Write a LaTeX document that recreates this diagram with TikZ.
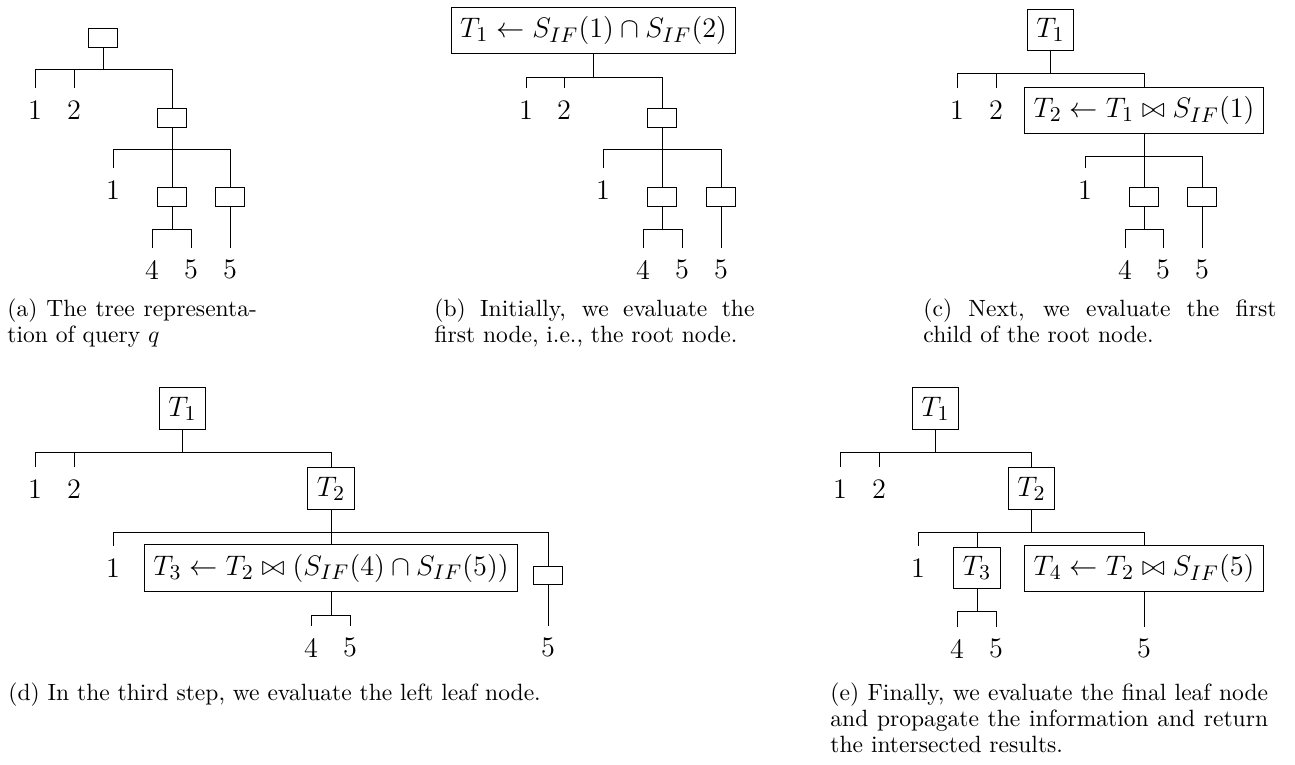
\documentclass[tikz,border=0pt]{standalone}
\usepackage{amsmath,amssymb}
\usepackage{tikz}

\begin{document}
\begin{tikzpicture}[x=0.425pt, y=-0.425pt,
    op/.style={draw, minimum width=12.4pt, minimum height=8pt, inner sep=0pt},
    res/.style={draw, font=\fontsize{12.65}{15}\selectfont, inner sep=3.8pt},
    leaf/.style={font=\large, inner xsep=0pt, inner ysep=5pt, anchor=north},
    subcap/.style={anchor=north west, inner sep=0pt, align=justify, font=\fontsize{10}{11}\selectfont}
]
\useasboundingbox (0,0) rectangle (1295,765);

% ---- (a) tree of q ----
\node[op] (a0) at (103,38) {};
\coordinate (a0b) at (103,69);
\node[leaf] (a1) at (35,88) {1};
\node[leaf] (a2) at (74,88) {2};
\node[op] (a3) at (172,118) {};
\draw (a0) -- (a0b);
\foreach \c in {a1,a2,a3} \draw (\c.north) |- (a0b);
\coordinate (a3b) at (172,149);
\node[leaf] (a31) at (113,168) {1};
\node[op] (a32) at (172,197) {};
\node[op] (a33) at (230,197) {};
\draw (a3) -- (a3b);
\foreach \c in {a31,a32,a33} \draw (\c.north) |- (a3b);
\coordinate (a32b) at (172,229);
\node[leaf] (a321) at (152,248) {4};
\node[leaf] (a322) at (191,248) {5};
\node[leaf] (a331) at (230,248) {5};
\draw (a32) -- (a32b);
\foreach \c in {a321,a322} \draw (\c.north) |- (a32b);
\draw (a33) -- (a331);

% ---- (b) root evaluated ----
\node[res] (b0) at (593.5,30.5) {$T_1 \leftarrow S_{IF}(1) \cap S_{IF}(2)$};
\coordinate (b0b) at (593.5,77);
\node[leaf] (b1) at (526,88) {1};
\node[leaf] (b2) at (564,88) {2};
\node[op] (b3) at (662,118) {};
\draw (b0) -- (b0b);
\foreach \c in {b1,b2,b3} \draw (\c.north) |- (b0b);
\coordinate (b3b) at (662,149);
\node[leaf] (b31) at (603,168) {1};
\node[op] (b32) at (662,197) {};
\node[op] (b33) at (721,197) {};
\draw (b3) -- (b3b);
\foreach \c in {b31,b32,b33} \draw (\c.north) |- (b3b);
\coordinate (b32b) at (662,229);
\node[leaf] (b321) at (643,248) {4};
\node[leaf] (b322) at (682,248) {5};
\node[leaf] (b331) at (721,248) {5};
\draw (b32) -- (b32b);
\foreach \c in {b321,b322} \draw (\c.north) |- (b32b);
\draw (b33) -- (b331);

% ---- (c) first child evaluated ----
\node[res] (c0) at (1050.5,30) {$T_1$};
\coordinate (c0b) at (1050.5,73);
\node[leaf] (c1) at (957,88) {1};
\node[leaf] (c2) at (996,88) {2};
\node[res] (c3) at (1144,110.5) {$T_2 \leftarrow T_1 \bowtie S_{IF}(1)$};
\draw (c0) -- (c0b);
\foreach \c in {c1,c2,c3} \draw (\c.north) |- (c0b);
\coordinate (c3b) at (1144,156);
\node[leaf] (c31) at (1085,168) {1};
\node[op] (c32) at (1144,197) {};
\node[op] (c33) at (1202,197) {};
\draw (c3) -- (c3b);
\foreach \c in {c31,c32,c33} \draw (\c.north) |- (c3b);
\coordinate (c32b) at (1144,229);
\node[leaf] (c321) at (1125,248) {4};
\node[leaf] (c322) at (1163,248) {5};
\node[leaf] (c331) at (1202,248) {5};
\draw (c32) -- (c32b);
\foreach \c in {c321,c322} \draw (\c.north) |- (c32b);
\draw (c33) -- (c331);

% ---- (d) left leaf evaluated ----
\node[res] (d0) at (182.5,408.5) {$T_1$};
\coordinate (d0b) at (182.5,452);
\node[leaf] (d1) at (35,467) {1};
\node[leaf] (d2) at (74,467) {2};
\node[res] (d3) at (331,488.5) {$T_2$};
\draw (d0) -- (d0b);
\foreach \c in {d1,d2,d3} \draw (\c.north) |- (d0b);
\coordinate (d3b) at (331,532);
\node[leaf] (d31) at (113,546) {1};
\node[res] (d32) at (331,568) {$T_3 \leftarrow T_2 \bowtie (S_{IF}(4) \cap S_{IF}(5))$};
\node[op] (d33) at (548,575.5) {};
\draw (d3) -- (d3b);
\foreach \c in {d31,d32,d33} \draw (\c.north) |- (d3b);
\coordinate (d32b) at (331,615);
\node[leaf] (d321) at (311,626) {4};
\node[leaf] (d322) at (350,626) {5};
\node[leaf] (d331) at (548,626) {5};
\draw (d32) -- (d32b);
\foreach \c in {d321,d322} \draw (\c.north) |- (d32b);
\draw (d33) -- (d331);

% ---- (e) last leaf evaluated ----
\node[res] (e0) at (935.5,408.5) {$T_1$};
\coordinate (e0b) at (935.5,452);
\node[leaf] (e1) at (840,467) {1};
\node[leaf] (e2) at (879,467) {2};
\node[res] (e3) at (1031.5,488.5) {$T_2$};
\draw (e0) -- (e0b);
\foreach \c in {e1,e2,e3} \draw (\c.north) |- (e0b);
\coordinate (e3b) at (1031.5,532);
\node[leaf] (e31) at (918,546) {1};
\node[res] (e32) at (977,568) {$T_3$};
\node[res] (e33) at (1144,568.5) {$T_4 \leftarrow T_2 \bowtie S_{IF}(5)$};
\draw (e3) -- (e3b);
\foreach \c in {e31,e32,e33} \draw (\c.north) |- (e3b);
\coordinate (e32b) at (977,611);
\node[leaf] (e321) at (957,627) {4};
\node[leaf] (e322) at (996,627) {5};
\node[leaf] (e331) at (1144,627) {5};
\draw (e32) -- (e32b);
\foreach \c in {e321,e322} \draw (\c.north) |- (e32b);
\draw (e33) -- (e331);

% captions
\node[subcap, text width=106pt] (capa) at (7,298.4) {(a) The tree representa-\linebreak tion of query $q$};
\node[subcap, text width=136pt] (capb) at (434,298.4) {(b) Initially, we evaluate the\linebreak first node, i.e., the root node.};
\node[subcap, text width=150pt] (capc) at (923,298.4) {(c) Next, we evaluate the first\linebreak child of the root node.};
\node[subcap, text width=260pt, align=left] (capd) at (8,682.4) {(d) In the third step, we evaluate the left leaf node.};
\node[subcap, text width=186pt] (cape) at (830,682.4) {(e) Finally, we evaluate the final leaf node and propagate the information and return the intersected results.};
\end{tikzpicture}
\end{document}
